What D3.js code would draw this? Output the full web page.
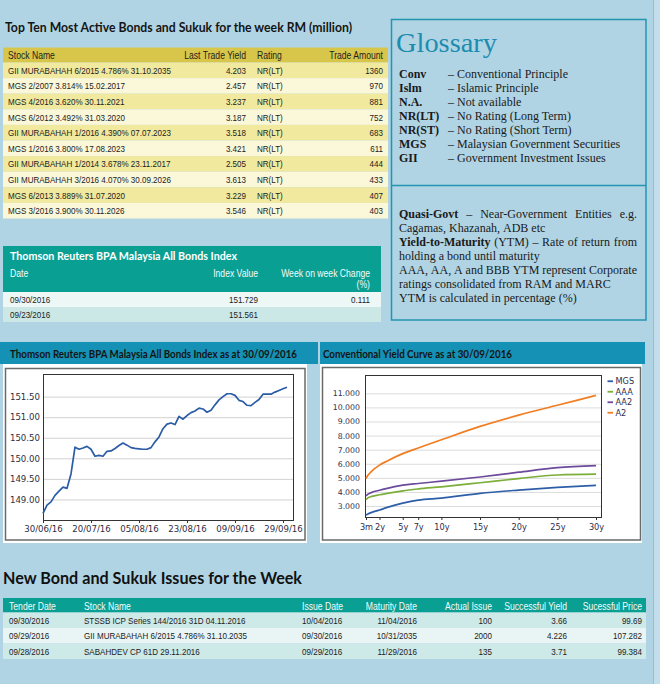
<!DOCTYPE html>
<html><head><meta charset="utf-8">
<script src="https://cdn.jsdelivr.net/npm/d3@7"></script>
<style>body{margin:0;background:#b0d4e4;} svg{display:block}</style>
</head><body>
<script>
// ---------------- DATA ----------------
const activeColumns = ["Stock Name", "Last Trade Yield", "Rating", "Trade Amount"];
const activeStockNames = [
  "GII MURABAHAH 6/2015 4.786% 31.10.2035",
  "MGS 2/2007 3.814% 15.02.2017",
  "MGS 4/2016 3.620% 30.11.2021",
  "MGS 6/2012 3.492% 31.03.2020",
  "GII MURABAHAH 1/2016 4.390% 07.07.2023",
  "MGS 1/2016 3.800% 17.08.2023",
  "GII MURABAHAH 1/2014 3.678% 23.11.2017",
  "GII MURABAHAH 3/2016 4.070% 30.09.2026",
  "MGS 6/2013 3.889% 31.07.2020",
  "MGS 3/2016 3.900% 30.11.2026"];
const activeYields = [4.203, 2.457, 3.237, 3.187, 3.518, 3.421, 2.505, 3.613, 3.229, 3.546];
const activeRatings = ["NR(LT)","NR(LT)","NR(LT)","NR(LT)","NR(LT)","NR(LT)","NR(LT)","NR(LT)","NR(LT)","NR(LT)"];
const activeAmounts = [1360, 970, 881, 752, 683, 611, 444, 433, 407, 403];

const glossaryTerms = ["Conv", "Islm", "N.A.", "NR(LT)", "NR(ST)", "MGS", "GII"];
const glossaryDefs = ["Conventional Principle", "Islamic Principle", "Not available",
  "No Rating (Long Term)", "No Rating (Short Term)", "Malaysian Government Securities",
  "Government Investment Issues"];
const glossaryNotes = [
  ["**Quasi-Govt** – Near-Government Entities e.g.", "Cagamas, Khazanah, ADB etc"],
  ["**Yield-to-Maturity** (YTM) – Rate of return from", "holding a bond until maturity"],
  ["AAA, AA, A and BBB YTM represent Corporate", "ratings consolidated from RAM and MARC"],
  ["YTM is calculated in percentage (%)"]];

const indexTableColumns = ["Date", "Index Value", "Week on week Change", "(%)"];
const indexTableDates = ["09/30/2016", "09/23/2016"];
const indexTableValues = [151.729, 151.561];
const indexTableChange = ["0.111", ""];

const indexDates = ["30/06/16",
  "01/07/16","04/07/16","05/07/16","08/07/16","11/07/16","12/07/16","13/07/16","14/07/16","15/07/16","18/07/16","19/07/16","20/07/16",
  "21/07/16","22/07/16","25/07/16","26/07/16","27/07/16","28/07/16","29/07/16","01/08/16","02/08/16","03/08/16","04/08/16","05/08/16",
  "08/08/16","09/08/16","10/08/16","11/08/16","12/08/16","15/08/16","16/08/16","17/08/16","18/08/16","19/08/16","22/08/16","23/08/16",
  "24/08/16","25/08/16","26/08/16","29/08/16","30/08/16","01/09/16","02/09/16","05/09/16","06/09/16","07/09/16","08/09/16","09/09/16",
  "13/09/16","14/09/16","15/09/16","19/09/16","20/09/16","21/09/16","22/09/16","23/09/16","26/09/16","27/09/16","28/09/16","29/09/16",
  "30/09/16"];
const indexValues = [148.66,
  148.86,148.94,149.10,149.20,149.30,149.27,149.62,150.27,150.22,150.25,150.29,150.22,
  150.05,150.07,150.05,150.17,150.18,150.24,150.31,150.37,150.32,150.26,150.24,150.23,
  150.22,150.22,150.26,150.40,150.52,150.72,150.83,150.86,150.82,151.02,150.95,151.04,
  151.11,151.15,151.22,151.20,151.12,151.17,151.30,151.42,151.50,151.57,151.57,151.53,
  151.41,151.38,151.29,151.28,151.36,151.43,151.56,151.561,151.56,151.61,151.65,151.69,
  151.729];
const indexTickLabels = ["30/06/16", "20/07/16", "05/08/16", "23/08/16", "09/09/16", "29/09/16"];
const indexYTicks = [149.0, 149.5, 150.0, 150.5, 151.0, 151.5];

const tenorYears = [0.25, 0.5, 1, 2, 3, 5, 7, 10, 15, 20, 25, 30];
const tenorTickValues = [0.25, 2, 5, 7, 10, 15, 20, 25, 30];
const tenorTickLabels = ["3m", "2y", "5y", "7y", "10y", "15y", "20y", "25y", "30y"];
const seriesNames = ["MGS", "AAA", "AA2", "A2"];
const yieldMGS = [2.36, 2.44, 2.55, 2.72, 2.90, 3.20, 3.42, 3.56, 3.90, 4.13, 4.32, 4.46];
const yieldAAA = [3.45, 3.58, 3.68, 3.80, 3.90, 4.08, 4.21, 4.36, 4.65, 4.95, 5.20, 5.26];
const yieldAA2 = [3.72, 3.84, 3.97, 4.12, 4.25, 4.48, 4.60, 4.76, 5.06, 5.40, 5.72, 5.87];
const yieldA2  = [4.95, 5.18, 5.48, 5.90, 6.20, 6.72, 7.12, 7.70, 8.65, 9.45, 10.15, 10.85];
const yieldYTicks = [3, 4, 5, 6, 7, 8, 9, 10, 11];

const issueColumns = ["Tender Date", "Stock Name", "Issue Date", "Maturity Date", "Actual Issue", "Successful Yield", "Sucessful Price"];
const issueTenderDates = ["09/30/2016", "09/29/2016", "09/28/2016"];
const issueStockNames = ["STSSB ICP Series 144/2016 31D 04.11.2016", "GII MURABAHAH 6/2015 4.786% 31.10.2035", "SABAHDEV CP 61D 29.11.2016"];
const issueDates = ["10/04/2016", "09/30/2016", "09/29/2016"];
const issueMaturityDates = ["11/04/2016", "10/31/2035", "11/29/2016"];
const issueActual = [100, 2000, 135];
const issueYields = [3.66, 4.226, 3.71];
const issuePrices = [99.69, 107.282, 99.384];

// ---------------- STYLE ----------------
const NARROW = "'Liberation Sans Narrow','Arial Narrow','Liberation Sans',sans-serif";
const TITLE = "Lato,'Open Sans',sans-serif";
const SERIF = "'Liberation Serif','Times New Roman',serif";
const AXIS = "'DejaVu Sans',Verdana,sans-serif";
const seriesColors = ["#2e5ea8", "#7cae3a", "#6c4a9c", "#f07d22"];
const TEAL = "#0a9f93", BAR = "#1591b5";

const svg = d3.select("body").append("svg").attr("width", 660).attr("height", 684);
svg.append("rect").attr("width", 660).attr("height", 684).attr("fill", "#b0d4e4");
svg.append("rect").attr("x", 653).attr("width", 7).attr("height", 684).attr("fill", "#c2deea");
svg.append("line").attr("x1", 653.5).attr("x2", 653.5).attr("y1", 0).attr("y2", 684).attr("stroke", "#95c0d3");

function title(x, y, s, size, width, color) {
  return svg.append("text").attr("x", x).attr("y", y).text(s)
    .attr("font-family", TITLE).attr("font-weight", "bold").attr("font-size", size)
    .attr("fill", color).attr("textLength", width).attr("lengthAdjust", "spacingAndGlyphs");
}
function cell(g, x, y, s, anchor, size, color) {
  return g.append("text").attr("class", "nar").attr("x", x).attr("y", y)
    .attr("text-anchor", anchor || "start").attr("font-family", NARROW)
    .attr("font-size", size || 9.8).attr("fill", color || "#222").text(s);
}

// ---------------- TOP TABLE ----------------
title(5, 31.5, "Top Ten Most Active Bonds and Sukuk for the week RM (million)", 13.2, 347, "#151515");
const gT = svg.append("g");
gT.append("rect").attr("x", 3).attr("y", 47.5).attr("width", 385).attr("height", 15).attr("fill", "#d8c64a");
const band1 = d3.scaleBand().domain(d3.range(activeStockNames.length)).range([62.5, 218.5]);
gT.selectAll("rect.row").data(activeStockNames).join("rect").attr("class", "row")
  .attr("x", 3).attr("y", (d, i) => band1(i)).attr("width", 385).attr("height", band1.bandwidth())
  .attr("fill", (d, i) => i % 2 ? "#fbf7d9" : "#f1e99e");
const t1Cols = [{x: 8, a: "start"}, {x: 246, a: "end"}, {x: 257, a: "start"}, {x: 383, a: "end"}];
activeColumns.forEach((c, j) => cell(gT, t1Cols[j].x, 58.8, c, t1Cols[j].a, 10.5, "#1e1e1e"));
activeStockNames.forEach((n, i) => {
  const y = band1(i) + band1.bandwidth() / 2 + 3.5;
  const vals = [n, d3.format(".3f")(activeYields[i]), activeRatings[i], activeAmounts[i]];
  vals.forEach((v, j) => cell(gT, t1Cols[j].x, y, v, t1Cols[j].a));
});

// ---------------- GLOSSARY ----------------
const gG = svg.append("g");
gG.append("rect").attr("x", 391.5).attr("y", 19.5).attr("width", 254.5).attr("height", 300.5)
  .attr("fill", "none").attr("stroke", "#2394b1").attr("stroke-width", 1.5);
gG.append("line").attr("x1", 391.5).attr("x2", 646).attr("y1", 185.5).attr("y2", 185.5)
  .attr("stroke", "#2394b1").attr("stroke-width", 1.5);
gG.append("text").attr("x", 396).attr("y", 52).attr("font-family", SERIF).attr("font-size", 27)
  .attr("fill", "#1d8cae").attr("textLength", 101).attr("lengthAdjust", "spacingAndGlyphs").text("Glossary");
glossaryTerms.forEach((t, i) => {
  const y = 78.3 + i * 14;
  gG.append("text").attr("x", 399).attr("y", y).attr("font-family", SERIF).attr("font-size", 12)
    .attr("font-weight", "bold").attr("fill", "#1a1a1a").text(t);
  gG.append("text").attr("x", 448).attr("y", y).attr("font-family", SERIF).attr("font-size", 12)
    .attr("fill", "#1a1a1a").text("– " + glossaryDefs[i]);
});
let lineNo = 0;
glossaryNotes.forEach(par => par.forEach((line, li) => {
  const justify = li < par.length - 1;
  const words = [];
  line.split("**").forEach((seg, si) => seg.split(" ").filter(w => w).forEach(w => words.push({w, bold: si % 2 === 1})));
  const y = 218.3 + lineNo * 13.9;
  const nodes = words.map(o => gG.append("text").attr("y", y).attr("font-family", SERIF).attr("font-size", 12)
    .attr("font-weight", o.bold ? "bold" : "normal").attr("fill", "#1a1a1a").text(o.w));
  const widths = nodes.map(n => n.node().getComputedTextLength());
  const gap = justify && words.length > 1 ? (238 - d3.sum(widths)) / (words.length - 1) : 3;
  let x = 399;
  nodes.forEach((n, i) => { n.attr("x", x); x += widths[i] + gap; });
  lineNo++;
}));

// ---------------- INDEX TABLE ----------------
const gI = svg.append("g");
gI.append("rect").attr("x", 3).attr("y", 246).attr("width", 378).attr("height", 46).attr("fill", TEAL);
svg.append("text").attr("x", 10).attr("y", 259.5).text("Thomson Reuters BPA Malaysia All Bonds Index")
  .attr("font-family", TITLE).attr("font-weight", "bold").attr("font-size", 10.8).attr("fill", "#fff")
  .attr("textLength", 227).attr("lengthAdjust", "spacingAndGlyphs");
const iCols = [{x: 10, a: "start"}, {x: 258, a: "end"}, {x: 370, a: "end"}];
cell(gI, iCols[0].x, 276.5, indexTableColumns[0], "start", 10.5, "#f2fbfa");
cell(gI, iCols[1].x, 276.5, indexTableColumns[1], "end", 10.5, "#f2fbfa");
cell(gI, iCols[2].x, 276.5, indexTableColumns[2], "end", 10.5, "#f2fbfa");
cell(gI, iCols[2].x, 288, indexTableColumns[3], "end", 10.5, "#f2fbfa");
const bandI = d3.scaleBand().domain(d3.range(indexTableDates.length)).range([292, 322]);
indexTableDates.forEach((d, i) => {
  gI.append("rect").attr("x", 3).attr("y", bandI(i)).attr("width", 378).attr("height", bandI.bandwidth())
    .attr("fill", i % 2 ? "#cbe8e6" : "#ecf7f6");
  const y = bandI(i) + bandI.bandwidth() / 2 + 3.5;
  cell(gI, iCols[0].x, y, d, "start");
  cell(gI, iCols[1].x, y, d3.format(".3f")(indexTableValues[i]), "end");
  cell(gI, iCols[2].x, y, indexTableChange[i], "end");
});

// ---------------- LEFT CHART ----------------
svg.append("rect").attr("x", 0).attr("y", 342).attr("width", 318).attr("height", 22).attr("fill", BAR);
title(10, 357.5, "Thomson Reuters BPA Malaysia All Bonds Index as at 30/09/2016", 11, 287, "#141414");
svg.append("rect").attr("x", 3).attr("y", 364).attr("width", 304).attr("height", 179).attr("fill", "#fff");
svg.append("rect").attr("x", 5.5).attr("y", 368.5).attr("width", 299.5).attr("height", 171.5)
  .attr("fill", "none").attr("stroke", "#6a6a6a").attr("stroke-width", 1.5);
const L = {l: 43, r: 293, t: 374, b: 520};
const xI = d3.scalePoint().domain(indexDates).range([43, 287]);
const yI = d3.scaleLinear().domain([148.5, 152.05]).range([L.b, L.t]);
const gL = svg.append("g");
gL.append("g").attr("transform", `translate(${L.l},0)`)
  .call(d3.axisLeft(yI).tickValues(indexYTicks).tickSize(-(L.r - L.l)).tickFormat(""))
  .call(g => { g.select(".domain").remove(); g.selectAll("line").attr("stroke", "#d2d2d2"); });
gL.append("g").attr("transform", `translate(${L.l},0)`)
  .call(d3.axisLeft(yI).tickValues(indexYTicks).tickSize(0).tickPadding(3).tickFormat(d3.format(".2f")))
  .call(g => { g.select(".domain").remove(); g.selectAll("text").attr("font-family", AXIS).attr("font-size", 8.6).attr("fill", "#2e2e3e"); });
gL.append("g").attr("transform", `translate(0,${L.b})`)
  .call(d3.axisBottom(xI).tickValues(indexTickLabels).tickSize(3).tickPadding(3))
  .call(g => { g.select(".domain").remove(); g.selectAll("line").attr("stroke", "#333");
    g.selectAll("text").attr("font-family", AXIS).attr("font-size", 8.6).attr("fill", "#2e2e3e"); });
gL.append("rect").attr("x", L.l + 0.5).attr("y", L.t + 0.5).attr("width", L.r - L.l).attr("height", L.b - L.t)
  .attr("fill", "none").attr("stroke", "#333");
gL.append("path").datum(indexValues)
  .attr("d", d3.line().x((d, i) => xI(indexDates[i])).y(d => yI(d)))
  .attr("fill", "none").attr("stroke", "#2b5ca6").attr("stroke-width", 1.7).attr("stroke-linejoin", "round");

// ---------------- RIGHT CHART ----------------
svg.append("rect").attr("x", 320).attr("y", 342).attr("width", 325).attr("height", 22).attr("fill", BAR);
title(323, 357.5, "Conventional Yield Curve as at  30/09/2016", 11, 189, "#141414");
svg.append("rect").attr("x", 320).attr("y", 364).attr("width", 322).attr("height", 179).attr("fill", "#fff");
svg.append("rect").attr("x", 322.5).attr("y", 367.5).attr("width", 318).attr("height", 172.5)
  .attr("fill", "none").attr("stroke", "#6a6a6a").attr("stroke-width", 1.5);
const R = {l: 365, r: 601, t: 375, b: 517};
const xY = d3.scaleLinear().domain([0.25, 30]).range([366, 596]);
const yY = d3.scaleLinear().domain([2.22, 12.3]).range([R.b, R.t]);
const gR = svg.append("g");
gR.append("g").attr("transform", `translate(${R.l},0)`)
  .call(d3.axisLeft(yY).tickValues(yieldYTicks).tickSize(-(R.r - R.l)).tickFormat(""))
  .call(g => { g.select(".domain").remove(); g.selectAll("line").attr("stroke", "#dcdcdc"); });
gR.append("g").attr("transform", `translate(${R.l},0)`)
  .call(d3.axisLeft(yY).tickValues(yieldYTicks).tickSize(0).tickPadding(5).tickFormat(d3.format(".3f")))
  .call(g => { g.select(".domain").remove(); g.selectAll("text").attr("font-family", AXIS).attr("font-size", 7.8).attr("fill", "#2e2e4e"); });
gR.append("g").attr("transform", `translate(0,${R.b})`)
  .call(d3.axisBottom(xY).tickValues(tenorTickValues).tickSize(3).tickPadding(4)
    .tickFormat((d, i) => tenorTickLabels[i]))
  .call(g => { g.select(".domain").remove(); g.selectAll("line").attr("stroke", "#333");
    g.selectAll("text").attr("font-family", AXIS).attr("font-size", 8.2).attr("fill", "#2e2e4e"); });
gR.append("rect").attr("x", R.l + 0.5).attr("y", R.t + 0.5).attr("width", R.r - R.l).attr("height", R.b - R.t)
  .attr("fill", "none").attr("stroke", "#333");
const yieldSeries = [yieldMGS, yieldAAA, yieldAA2, yieldA2];
const yLine = d3.line().curve(d3.curveMonotoneX).x((d, i) => xY(tenorYears[i])).y(d => yY(d));
yieldSeries.forEach((s, k) => gR.append("path").datum(s).attr("d", yLine)
  .attr("fill", "none").attr("stroke", seriesColors[k]).attr("stroke-width", 1.7));
const lg = d3.scaleBand().domain(seriesNames).range([376, 418]);
seriesNames.forEach((n, k) => {
  const y = lg(n) + lg.bandwidth() / 2;
  gR.append("line").attr("x1", 607.5).attr("x2", 613).attr("y1", y).attr("y2", y)
    .attr("stroke", seriesColors[k]).attr("stroke-width", 1.8);
  gR.append("text").attr("x", 615.5).attr("y", y + 3).attr("font-family", AXIS).attr("font-size", 8.2)
    .attr("fill", "#2e2e4e").text(n);
});

// ---------------- BOTTOM TABLE ----------------
title(3, 583.5, "New Bond and Sukuk Issues for the Week", 17.5, 299, "#111");
const gB = svg.append("g");
gB.append("rect").attr("x", 3).attr("y", 598).attr("width", 643).attr("height", 14.5).attr("fill", TEAL);
const bCols = [{x: 9, a: "start"}, {x: 84, a: "start"}, {x: 302, a: "start"}, {x: 417, a: "end"},
  {x: 492, a: "end"}, {x: 567, a: "end"}, {x: 642, a: "end"}];
issueColumns.forEach((c, j) => cell(gB, bCols[j].x, 609.5, c, bCols[j].a, 10.5, "#f2fbfa"));
const bandB = d3.scaleBand().domain(d3.range(issueTenderDates.length)).range([612.5, 659]);
issueTenderDates.forEach((d, i) => {
  gB.append("rect").attr("x", 3).attr("y", bandB(i)).attr("width", 643).attr("height", bandB.bandwidth())
    .attr("fill", i % 2 ? "#e9f5f5" : "#cde9e8");
  const y = bandB(i) + bandB.bandwidth() / 2 + 3.5;
  const vals = [d, issueStockNames[i], issueDates[i], issueMaturityDates[i], issueActual[i], String(issueYields[i]), String(issuePrices[i])];
  vals.forEach((v, j) => cell(gB, bCols[j].x, y, v, bCols[j].a));
});

// ---------------- NARROW FONT FALLBACK ----------------
(function () {
  const a = svg.append("text").attr("font-family", "'Liberation Sans Narrow',monospace").attr("font-size", 20).text("MMMMiiii");
  const b = svg.append("text").attr("font-family", "monospace").attr("font-size", 20).text("MMMMiiii");
  const missing = Math.abs(a.node().getComputedTextLength() - b.node().getComputedTextLength()) < 0.5;
  a.remove(); b.remove();
  if (missing) {
    svg.selectAll("text.nar").each(function () {
      const w = this.getComputedTextLength();
      if (w > 0) d3.select(this).attr("textLength", w * 0.82).attr("lengthAdjust", "spacingAndGlyphs");
    });
  }
})();
</script>
</body></html>
